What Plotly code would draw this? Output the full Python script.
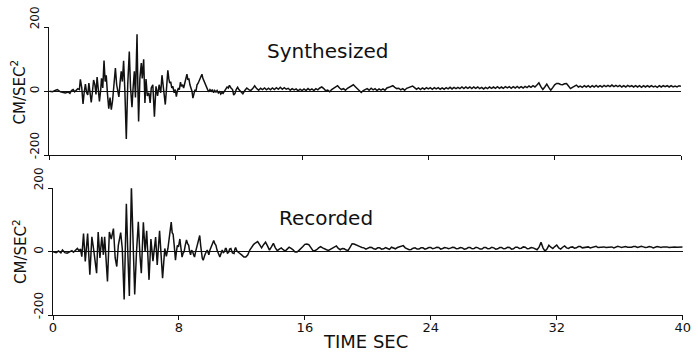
import plotly.graph_objects as go

# ---------------- data ----------------
# Synthesized trace, strong-motion part (time s, acceleration cm/s^2)
syn_t_early = [0.0,0.2,0.4,0.5,0.7,0.9,1.0,1.2,1.3,1.4,1.5,1.6,1.7,1.8,1.9,1.96,2.05,2.13,2.2,2.28,
               2.36,2.43,2.5,2.58,2.65,2.72,2.8,2.88,2.95,3.02,3.1,3.17,3.25,3.3,3.38,3.46,3.53,3.6,3.68,3.76,
               3.84,3.92,4.0,4.08,4.18,4.26,4.33,4.4,4.48,4.55,4.62,4.7,4.78,4.87,4.96,5.06,5.14,5.23,5.3,5.38,
               5.45,5.55,5.6,5.65,5.73,5.82,5.88,5.97,6.05,6.12,6.2,6.3,6.38,6.45,6.55,6.65,6.75,6.85,6.95,7.05,
               7.13,7.22,7.34,7.42,
               7.5,7.56,7.62,7.68,7.75,7.82,7.9,7.97,8.04,8.1,8.17,8.23,8.3,8.36,8.43,8.5,8.56,8.62,8.71,8.77,
               8.83,8.9,8.97,9.03,9.09,9.15,9.22,9.28,9.35,9.42,9.5,9.57,9.66,9.72,9.8,9.87,9.95,10.02,10.1,10.17,
               10.25,10.32,10.4,10.47,10.55,10.62,10.7,10.78,10.85,10.93,11.0,11.1,11.18,11.25,11.33,11.4,11.5,11.6,11.67,11.75,
               11.83,11.92,12.0]
syn_v_early = [0,-2,3,5,-2,-4,-6,-3,-7,2,5,-2,4,8,5,37,10,-40,-5,22,
               -5,-12,25,-10,-35,-5,35,20,-10,44,-5,-32,5,40,10,96,30,50,-10,-55,
               -20,-58,-30,20,72,20,-8,-18,30,62,30,95,0,-150,20,124,10,-50,10,62,
               -20,178,20,-95,40,88,40,100,-37,38,-15,-5,-37,10,20,-80,15,-15,20,-5,
               50,0,-42,10,
               65,40,25,30,10,15,-5,5,-17,0,10,5,28,15,20,10,25,30,53,35,
               40,20,10,0,-22,-5,5,0,20,25,35,45,53,40,30,20,15,5,-2,5,
               0,5,-5,2,-3,2,-6,-2,-9,-4,-7,0,8,13,10,18,10,5,-12,-8,
               5,12,5]
# Synthesized trace, coda: one row per second, samples every 0.125 s from 12.125 s to 40 s
syn_coda_start = 12.0
syn_coda_step = 0.125
syn_v_coda = [
    -3,-8,2,10,5,2,8,17,      # 12 s
    8,3,9,5,10,4,9,4,         # 13 s
    10,5,11,6,12,6,11,6,      # 14 s
    9,3,8,4,7,1,6,2,          # 15 s
    7,2,8,3,7,2,8,4,          # 16 s
    10,13,8,1,3,-2,5,9,       # 17 s
    14,17,10,5,8,3,9,13,      # 18 s
    17,20,14,8,3,-4,2,4,      # 19 s
    8,3,9,4,8,2,7,3,          # 20 s
    7,3,10,12,15,17,12,8,     # 21 s
    9,4,8,3,9,11,15,16,       # 22 s
    11,6,10,5,10,6,11,7,      # 23 s
    11,6,11,7,11,6,10,6,      # 24 s
    11,7,12,7,12,8,12,8,      # 25 s
    13,8,13,9,13,8,13,9,      # 26 s
    13,8,12,7,12,8,13,9,      # 27 s
    13,9,14,9,13,9,14,10,     # 28 s
    14,9,14,10,15,10,14,10,   # 29 s
    15,11,16,12,17,13,19,26,  # 30 s
    14,5,13,22,12,3,11,20,    # 31 s
    24,24,21,20,23,24,16,8,   # 32 s
    12,16,19,13,16,12,17,13,  # 33 s
    17,12,17,13,18,13,17,13,  # 34 s
    18,14,18,14,19,14,18,14,  # 35 s
    18,13,17,13,18,14,17,13,  # 36 s
    17,13,17,12,17,13,17,13,  # 37 s
    17,13,16,12,17,13,17,14,  # 38 s
    17,13,17,13,16,13,17,15,  # 39 s
]

# Recorded trace, strong-motion part
rec_t_early = [0.0,0.2,0.35,0.5,0.6,0.75,0.9,1.05,1.2,1.3,1.45,1.55,1.65,1.75,1.83,1.94,2.05,2.12,2.2,2.34,
               2.47,2.6,2.77,2.87,2.98,3.1,3.2,3.28,3.46,3.58,3.7,3.84,3.95,4.05,4.15,4.3,4.4,4.52,4.66,4.75,
               4.85,4.98,5.08,5.19,5.3,5.42,5.52,5.61,5.74,5.85,5.95,6.1,6.22,6.35,6.52,6.62,6.77,6.85,6.96,7.1,
               7.2,7.3,
               7.51,7.57,7.63,7.7,7.78,7.84,7.9,7.97,8.06,8.13,8.2,8.26,8.33,8.4,8.48,8.55,8.62,8.68,8.74,8.8,
               8.87,8.93,8.99,9.06,9.15,9.24,9.32,9.38,9.42,9.48,9.54,9.6,9.65,9.72,9.8,9.85,9.9,9.97,10.05,10.13,
               10.21,10.28,10.35,10.42,10.5,10.55,10.6,10.68,10.75,10.82,10.9,10.95,11.0,11.08,11.15,11.22,11.3,11.4,11.5,11.55,
               11.6,11.68,11.75,11.85]
rec_v_early = [0,-3,2,-4,5,-3,-5,0,3,-2,6,10,3,8,-16,57,-31,10,57,-73,
               47,0,-68,62,-20,47,-10,47,-94,62,40,73,-20,-47,20,60,10,-151,151,0,
               -140,206,10,-135,-5,94,-10,-68,93,0,66,-89,40,-30,46,-42,66,0,-84,10,
               -15,10,
               93,60,55,20,-27,0,20,15,40,10,-17,-5,0,20,37,25,20,0,-10,5,
               0,-10,-17,0,20,40,51,20,-10,-20,-27,-15,-10,-2,5,-3,-10,5,15,25,
               35,25,20,5,-5,-12,-17,-5,5,-3,0,10,10,-5,-3,8,10,-4,-6,8,
               13,2,0,-5]
# Recorded trace, coda: one row per second, samples every 0.125 s from 12.0 s to 40 s
rec_coda_start = 12.0
rec_coda_step = 0.125
rec_v_coda = [
    -11,-17,-17,-10,5,15,23,28,   # 12 s
    32,22,12,22,30,18,5,15,       # 13 s
    26,12,3,8,12,6,2,8,           # 14 s
    14,10,6,-1,-1,4,9,16,         # 15 s
    23,24,22,12,4,3,6,12,         # 16 s
    16,12,8,6,4,8,12,16,          # 17 s
    18,10,6,10,9,5,4,14,          # 18 s
    25,24,22,18,16,13,12,8,       # 19 s
    10,14,13,9,8,12,12,8,         # 20 s
    9,13,10,7,14,11,9,13,         # 21 s
    15,19,19,12,9,6,7,11,         # 22 s
    12,8,8,12,12,8,10,13,         # 23 s
    13,9,11,14,13,8,10,13,        # 24 s
    12,9,11,14,13,9,10,13,        # 25 s
    12,8,9,13,13,9,10,14,         # 26 s
    12,8,8,13,13,9,10,14,         # 27 s
    12,8,9,13,13,9,10,14,         # 28 s
    13,8,9,14,14,10,11,15,        # 29 s
    14,9,10,13,12,8,6,14,         # 30 s
    30,12,2,8,20,14,10,16,        # 31 s
    21,12,8,14,18,12,10,14,       # 32 s
    15,11,12,16,16,12,13,16,      # 33 s
    15,12,14,17,17,13,14,16,      # 34 s
    15,13,14,16,15,12,14,17,      # 35 s
    15,13,15,16,14,13,14,16,      # 36 s
    16,13,14,17,15,13,14,16,      # 37 s
    15,12,14,16,15,13,15,16,      # 38 s
    15,13,14,16,15,14,14,16,      # 39 s
    15,                           # 40 s
]

x_ticks = [0, 8, 16, 24, 32, 40]
y_ticks = [-200, 0, 200]
y_tick_text = ["\u00a0\u00a0\u00a0\u00a0-200", "0", "\u00a0\u00a0\u00a0\u00a0200"]
panel_titles = ["Synthesized", "Recorded"]
y_title = "CM/SEC<sup>2</sup>"
x_title = "TIME SEC"

# ---------------- figure ----------------
W, H = 698, 353
FONT = "DejaVu Sans"
INK = "#111111"

syn_t_coda = [syn_coda_start + syn_coda_step * (i + 1) for i in range(len(syn_v_coda))]
rec_t_coda = [rec_coda_start + rec_coda_step * i for i in range(len(rec_v_coda))]

fig = go.Figure()
fig.add_trace(go.Scatter(x=syn_t_early + syn_t_coda, y=syn_v_early + syn_v_coda,
                         mode="lines", line=dict(color=INK, width=1.5),
                         xaxis="x", yaxis="y", showlegend=False, hoverinfo="skip"))
fig.add_trace(go.Scatter(x=rec_t_early + rec_t_coda, y=rec_v_early + rec_v_coda,
                         mode="lines", line=dict(color=INK, width=1.5),
                         xaxis="x2", yaxis="y2", showlegend=False, hoverinfo="skip"))

def px_x(p):
    return p / W

def px_y(p):
    return 1 - p / H

common_x = dict(range=[0, 40], tickvals=x_ticks, ticks="outside", ticklen=4, tickwidth=1.2,
                tickcolor=INK, showline=True, linecolor=INK, linewidth=1.3, showgrid=False,
                zeroline=False, automargin=False, ticklabelstandoff=-4,
                tickfont=dict(family=FONT, size=13, color=INK))
common_y = dict(range=[-200, 200], tickvals=y_ticks, ticktext=y_tick_text, ticks="outside",
                ticklen=4, tickwidth=1.2, tickcolor=INK, showline=True, linecolor=INK,
                linewidth=1.3, showgrid=False, zeroline=True, zerolinecolor=INK,
                zerolinewidth=1, tickangle=-90, automargin=False,
                tickfont=dict(family=FONT, size=12, color=INK))

fig.update_layout(
    width=W, height=H, margin=dict(l=0, r=0, t=0, b=0, autoexpand=False),
    paper_bgcolor="white", plot_bgcolor="white",
    xaxis=dict(domain=[px_x(49.4), px_x(681)], anchor="y", showticklabels=False, **common_x),
    yaxis=dict(domain=[px_y(155), px_y(27.3)], anchor="x", **common_y),
    xaxis2=dict(domain=[px_x(53), px_x(682.7)], anchor="y2", showticklabels=True, **common_x),
    yaxis2=dict(domain=[px_y(315), px_y(188.3)], anchor="x2", **common_y),
)

annos = [
    dict(text=panel_titles[0], x=px_x(328), y=px_y(51), xref="paper", yref="paper",
         xanchor="center", yanchor="middle", showarrow=False,
         font=dict(family=FONT, size=20, color=INK)),
    dict(text=panel_titles[1], x=px_x(326), y=px_y(218), xref="paper", yref="paper",
         xanchor="center", yanchor="middle", showarrow=False,
         font=dict(family=FONT, size=20, color=INK)),
    dict(text=x_title, x=px_x(365.5), y=px_y(341), xref="paper", yref="paper",
         xanchor="center", yanchor="middle", showarrow=False,
         font=dict(family=FONT, size=18, color=INK)),
    dict(text=y_title, x=px_x(18.5), y=px_y(92), xref="paper", yref="paper",
         xanchor="center", yanchor="middle", showarrow=False, textangle=-90,
         font=dict(family=FONT, size=15, color=INK)),
    dict(text=y_title, x=px_x(20), y=px_y(252), xref="paper", yref="paper",
         xanchor="center", yanchor="middle", showarrow=False, textangle=-90,
         font=dict(family=FONT, size=15, color=INK)),
]
fig.update_layout(annotations=annos)

fig.write_html("out.html")
